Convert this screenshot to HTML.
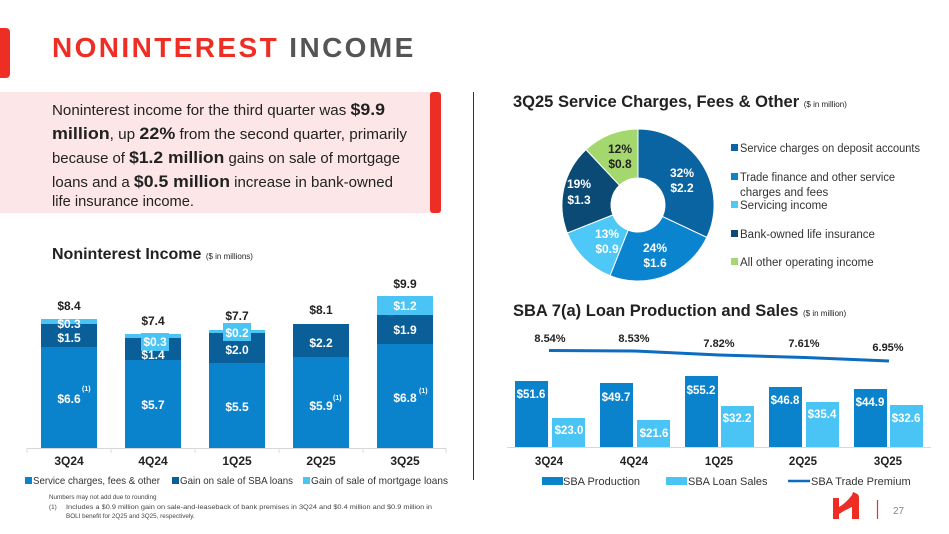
<!DOCTYPE html>
<html><head><meta charset="utf-8"><style>
body{margin:0;background:#fff;}
svg{display:block;font-family:"Liberation Sans",sans-serif;}
</style></head><body>
<svg width="949" height="534" viewBox="0 0 949 534" xmlns="http://www.w3.org/2000/svg">
<rect x="-6" y="28" width="16" height="50" rx="4" fill="#ee2e24"/>
<text x="52" y="57" font-size="28" font-weight="bold" letter-spacing="2.4" fill="#ee2e24">NONINTEREST <tspan fill="#555">INCOME</tspan></text>
<rect x="0" y="92" width="440" height="121" fill="#fde6e7"/>
<rect x="430" y="92" width="11" height="121" rx="3" fill="#ee2e24"/>
<g font-size="14.5" fill="#222">
<text x="52" y="115" textLength="333" lengthAdjust="spacingAndGlyphs">Noninterest income for the third quarter was <tspan font-weight="bold" font-size="17">$9.9</tspan></text>
<text x="52" y="139" textLength="355" lengthAdjust="spacingAndGlyphs"><tspan font-weight="bold" font-size="17">million</tspan>, up <tspan font-weight="bold" font-size="17">22%</tspan> from the second quarter, primarily</text>
<text x="52" y="163" textLength="348" lengthAdjust="spacingAndGlyphs">because of <tspan font-weight="bold" font-size="17">$1.2 million</tspan> gains on sale of mortgage</text>
<text x="52" y="187" textLength="341" lengthAdjust="spacingAndGlyphs">loans and a <tspan font-weight="bold" font-size="17">$0.5 million</tspan> increase in bank-owned</text>
<text x="52" y="206" textLength="142" lengthAdjust="spacingAndGlyphs">life insurance income.</text>
</g>
<line x1="473.5" y1="92" x2="473.5" y2="480" stroke="#333" stroke-width="1"/>
<text x="52" y="259" font-size="16" font-weight="bold" fill="#222">Noninterest Income <tspan font-size="8" font-weight="normal">($ in millions)</tspan></text>
<line x1="27" y1="448.5" x2="446" y2="448.5" stroke="#d8d8d8"/>
<g stroke="#d8d8d8"><line x1="27" y1="448" x2="27" y2="453"/><line x1="111" y1="448" x2="111" y2="453"/><line x1="195" y1="448" x2="195" y2="453"/><line x1="279" y1="448" x2="279" y2="453"/><line x1="363" y1="448" x2="363" y2="453"/><line x1="446" y1="448" x2="446" y2="453"/></g>
<g>
<rect x="41" y="347" width="56" height="101" fill="#0b83cc"/><rect x="41" y="324" width="56" height="23" fill="#0a5f98"/><rect x="41" y="319" width="56" height="5" fill="#4ac4f5"/>
<rect x="125" y="360" width="56" height="88" fill="#0b83cc"/><rect x="125" y="338" width="56" height="22" fill="#0a5f98"/><rect x="125" y="334" width="56" height="4" fill="#4ac4f5"/><rect x="141" y="333" width="28" height="18" fill="#4ac4f5"/>
<rect x="209" y="363" width="56" height="85" fill="#0b83cc"/><rect x="209" y="333" width="56" height="30" fill="#0a5f98"/><rect x="209" y="330" width="56" height="3" fill="#4ac4f5"/><rect x="223" y="323" width="28" height="18" fill="#4ac4f5"/>
<rect x="293" y="357" width="56" height="91" fill="#0b83cc"/><rect x="293" y="324" width="56" height="33" fill="#0a5f98"/>
<rect x="377" y="344" width="56" height="104" fill="#0b83cc"/><rect x="377" y="315" width="56" height="29" fill="#0a5f98"/><rect x="377" y="296" width="56" height="19" fill="#4ac4f5"/>
</g>
<g font-size="12" font-weight="bold" fill="#fff" text-anchor="middle">
<text x="69" y="403">$6.6</text><text x="69" y="342">$1.5</text><text x="69" y="328">$0.3</text>
<text x="153" y="359">$1.4</text><text x="155" y="346">$0.3</text><text x="153" y="409">$5.7</text>
<text x="237" y="411">$5.5</text><text x="237" y="354">$2.0</text><text x="237" y="337">$0.2</text>
<text x="321" y="410">$5.9</text><text x="321" y="347">$2.2</text>
<text x="405" y="402">$6.8</text><text x="405" y="334">$1.9</text><text x="405" y="310">$1.2</text>
</g>
<g font-size="7" font-weight="bold" fill="#fff"><text x="82" y="391">(1)</text><text x="333" y="400">(1)</text><text x="419" y="393">(1)</text></g>
<g font-size="12" font-weight="bold" fill="#222" text-anchor="middle">
<text x="69" y="310">$8.4</text><text x="153" y="325">$7.4</text><text x="237" y="320">$7.7</text><text x="321" y="314">$8.1</text><text x="405" y="288">$9.9</text>
</g>
<g font-size="12" font-weight="bold" fill="#222" text-anchor="middle">
<text x="69" y="465">3Q24</text><text x="153" y="465">4Q24</text><text x="237" y="465">1Q25</text><text x="321" y="465">2Q25</text><text x="405" y="465">3Q25</text>
</g>
<g font-size="10.5" fill="#333">
<rect x="25" y="477" width="7" height="7" fill="#0b83cc"/><text x="33" y="484" textLength="127" lengthAdjust="spacingAndGlyphs">Service charges, fees &amp; other</text>
<rect x="172" y="477" width="7" height="7" fill="#0a5f98"/><text x="180" y="484" textLength="113" lengthAdjust="spacingAndGlyphs">Gain on sale of SBA loans</text>
<rect x="303" y="477" width="7" height="7" fill="#4ac4f5"/><text x="311" y="484" textLength="137" lengthAdjust="spacingAndGlyphs">Gain of sale of mortgage loans</text>
</g>
<g font-size="6.3" fill="#444">
<text x="49" y="499">Numbers may not add due to rounding</text>
<text x="49" y="509">(1)</text><text x="66" y="509" textLength="366" lengthAdjust="spacingAndGlyphs">Includes a $0.9 million gain on sale-and-leaseback of bank premises in 3Q24 and $0.4 million and $0.9 million in</text>
<text x="66" y="518">BOLI benefit for 2Q25 and 3Q25, respectively.</text>
</g>
<text x="513" y="107" font-size="16.5" font-weight="bold" fill="#222">3Q25 Service Charges, Fees &amp; Other <tspan font-size="8" font-weight="normal">($ in million)</tspan></text>
<g stroke="#fff" stroke-width="1">
<path d="M638,129 A76,76 0 0 1 706.8,237.4 L662.4,216.5 A27,27 0 0 0 638,178 Z" fill="#0a64a2"/>
<path d="M706.8,237.4 A76,76 0 0 1 610,275.7 L628.1,230.1 A27,27 0 0 0 662.4,216.5 Z" fill="#0b84cf"/>
<path d="M610,275.7 A76,76 0 0 1 567.3,233 L612.9,214.9 A27,27 0 0 0 628.1,230.1 Z" fill="#4dc8f7"/>
<path d="M567.3,233 A76,76 0 0 1 586,149.6 L619.5,185.3 A27,27 0 0 0 612.9,214.9 Z" fill="#0b4a75"/>
<path d="M586,149.6 A76,76 0 0 1 638,129 L638,178 A27,27 0 0 0 619.5,185.3 Z" fill="#a4d86e"/>
</g>
<g font-size="12" font-weight="bold" text-anchor="middle" fill="#fff">
<text x="682" y="177">32%</text><text x="682" y="192">$2.2</text>
<text x="655" y="252">24%</text><text x="655" y="267">$1.6</text>
<text x="607" y="238">13%</text><text x="607" y="253">$0.9</text>
<text x="579" y="188">19%</text><text x="579" y="204">$1.3</text>
<text x="620" y="153" fill="#222">12%</text><text x="620" y="168" fill="#222">$0.8</text>
</g>
<g font-size="11.5" fill="#333">
<rect x="731" y="144" width="7" height="7" fill="#0a64a2"/><text x="740" y="152" textLength="180" lengthAdjust="spacingAndGlyphs">Service charges on deposit accounts</text>
<rect x="731" y="173" width="7" height="7" fill="#0b84cf"/><text x="740" y="181" textLength="155" lengthAdjust="spacingAndGlyphs">Trade finance and other service</text><text x="740" y="196">charges and fees</text>
<rect x="731" y="201" width="7" height="7" fill="#4dc8f7"/><text x="740" y="209">Servicing income</text>
<rect x="731" y="230" width="7" height="7" fill="#0b4a75"/><text x="740" y="238">Bank-owned life insurance</text>
<rect x="731" y="258" width="7" height="7" fill="#a4d86e"/><text x="740" y="266">All other operating income</text>
</g>
<text x="513" y="316" font-size="16.5" font-weight="bold" fill="#222">SBA 7(a) Loan Production and Sales <tspan font-size="8" font-weight="normal">($ in million)</tspan></text>
<g font-size="11" font-weight="bold" fill="#222" text-anchor="middle">
<text x="550" y="342">8.54%</text><text x="634" y="342">8.53%</text><text x="719" y="347">7.82%</text><text x="804" y="347">7.61%</text><text x="888" y="351">6.95%</text>
</g>
<polyline points="549,350.5 634,351 719,355 805,357.5 889,361" fill="none" stroke="#0b6cc0" stroke-width="3"/>
<line x1="507" y1="447.5" x2="931" y2="447.5" stroke="#d8d8d8"/>
<g>
<rect x="515" y="381" width="33" height="66" fill="#0b83cc"/><rect x="552" y="418" width="33" height="29" fill="#4ac4f5"/>
<rect x="600" y="383" width="33" height="64" fill="#0b83cc"/><rect x="637" y="420" width="33" height="27" fill="#4ac4f5"/>
<rect x="685" y="376" width="33" height="71" fill="#0b83cc"/><rect x="721" y="406" width="33" height="41" fill="#4ac4f5"/>
<rect x="769" y="387" width="33" height="60" fill="#0b83cc"/><rect x="806" y="402" width="33" height="45" fill="#4ac4f5"/>
<rect x="854" y="389" width="33" height="58" fill="#0b83cc"/><rect x="890" y="405" width="33" height="42" fill="#4ac4f5"/>
</g>
<g font-size="11.5" font-weight="bold" fill="#fff" text-anchor="middle">
<text x="531" y="398">$51.6</text><text x="569" y="434">$23.0</text>
<text x="616" y="401">$49.7</text><text x="654" y="437">$21.6</text>
<text x="701" y="394">$55.2</text><text x="737" y="422">$32.2</text>
<text x="785" y="404">$46.8</text><text x="822" y="418">$35.4</text>
<text x="870" y="406">$44.9</text><text x="906" y="422">$32.6</text>
</g>
<g font-size="11.5" font-weight="bold" fill="#222" text-anchor="middle">
<text x="549" y="465">3Q24</text><text x="634" y="465">4Q24</text><text x="719" y="465">1Q25</text><text x="803" y="465">2Q25</text><text x="888" y="465">3Q25</text>
</g>
<g font-size="11" fill="#333">
<rect x="542" y="477" width="21" height="8" fill="#0b83cc"/><text x="563" y="485">SBA Production</text>
<rect x="666" y="477" width="21" height="8" fill="#4ac4f5"/><text x="688" y="485">SBA Loan Sales</text>
<line x1="788" y1="481" x2="810" y2="481" stroke="#0b6cc0" stroke-width="2.5"/><text x="811" y="485">SBA Trade Premium</text>
</g>
<path d="M833,498 L839,498 L839,507 Q846,503 852,495 L853,492 Q859,494 859,497 L859,519 L852,519 L852,507 Q845,510 839,514 L839,519 L833,519 Z" fill="#ee2e24"/>
<line x1="877.5" y1="500" x2="877.5" y2="519" stroke="#ee2e24" stroke-width="1.2"/>
<text x="893" y="514" font-size="10" fill="#888">27</text>
</svg>
</body></html>
